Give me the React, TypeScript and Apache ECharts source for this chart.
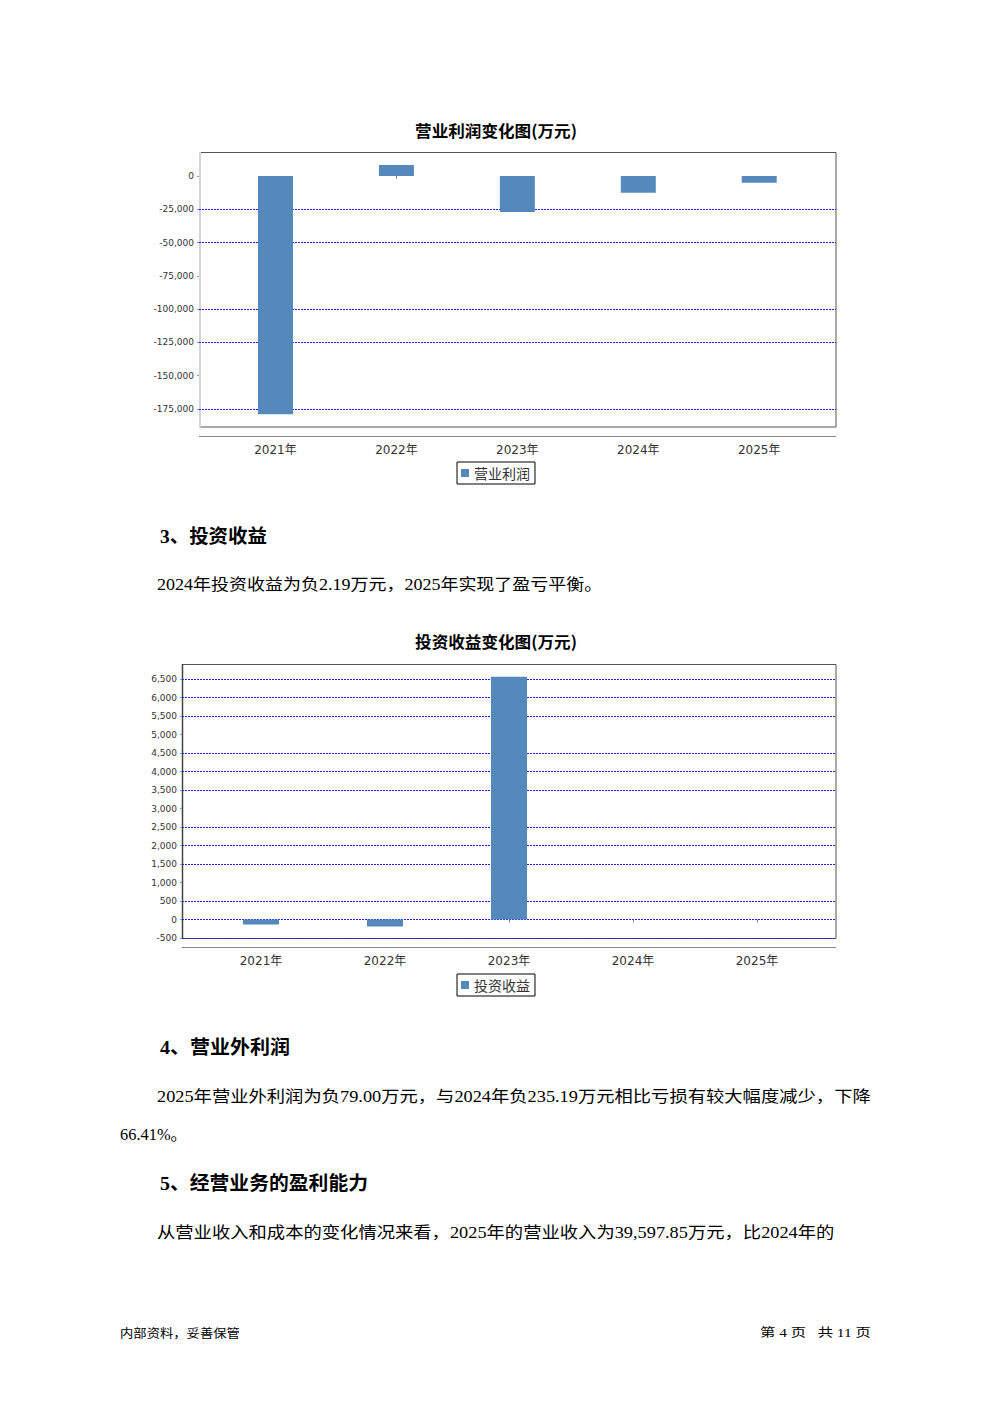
import React, { useEffect, useRef } from 'react';
import * as echarts from 'echarts';

// ---------- data ----------
const years = ['2021年', '2022年', '2023年', '2024年', '2025年'];

const profitName = '营业利润';
const operatingProfit = [-179000, 8250, -27000, -12500, -5000];
const profitTicks = [0, -25000, -50000, -75000, -100000, -125000, -150000, -175000];
const profitGridlines = [-25000, -50000, -100000, -125000, -175000];

const investName = '投资收益';
const investIncome = [-135, -190, 6560, -2.19, 0];
const investTicks = [6500, 6000, 5500, 5000, 4500, 4000, 3500, 3000, 2500, 2000, 1500, 1000, 500, 0, -500];
const investGridlines = [6500, 6000, 5500, 4500, 4000, 3500, 2500, 2000, 1500, 500, 0, -500];

// ---------- styling helpers ----------
const BAR = '#5589bb';
const GRID_BLUE = '#1f1fff';
const BODY = "'Liberation Serif', 'Noto Sans CJK SC', serif";
const SANS = "'DejaVu Sans', 'Noto Sans CJK SC', sans-serif";
const CJK = "'Noto Sans CJK SC', sans-serif";

let measureCtx: CanvasRenderingContext2D | null = null;
function fitScale(text: string, font: string, width: number) {
  if (!measureCtx) measureCtx = document.createElement('canvas').getContext('2d');
  if (!measureCtx) return 1;
  measureCtx.font = font;
  const w = measureCtx.measureText(text).width;
  return w > 0 ? width / w : 1;
}

function txt(text: string, x: number, y: number, size: number, weight: string, family: string, width?: number, align = 'left') {
  const font = `${weight} ${size}px ${family}`;
  const s = width ? fitScale(text, font, width) : 1;
  return {
    type: 'text',
    x,
    y,
    scaleX: s,
    silent: true,
    style: {
      text,
      font,
      fill: '#000',
      textAlign: align,
      align,
      textVerticalAlign: 'middle',
      verticalAlign: 'middle',
    },
  };
}

function splitColors(ticks: number[], shown: number[]) {
  return [...ticks].sort((a, b) => a - b).map((v) => (shown.includes(v) ? GRID_BLUE : 'rgba(0,0,0,0)'));
}

const fmt = (v: number) => v.toLocaleString('en-US');

function buildOption() {
  const pMin = Math.min(...profitTicks);
  const pMax = Math.max(...profitTicks);
  const iMin = Math.min(...investTicks);
  const iMax = Math.max(...investTicks);

  const yLabelAxis = (gridIndex: number, min: number, max: number, interval: number, colors: string[]) => ({
    gridIndex,
    type: 'value',
    min,
    max,
    interval,
    axisLine: { show: false },
    axisTick: { show: true, length: 2, lineStyle: { color: '#999' } },
    axisLabel: { margin: 5, fontSize: 9, color: '#333', fontFamily: SANS, formatter: fmt },
    splitLine: { show: true, lineStyle: { color: colors, type: [2, 1], width: 1 } },
  });

  const catAxis = (gridIndex: number, offset: number) => ({
    gridIndex,
    type: 'category',
    data: years,
    offset,
    axisLine: { show: false },
    axisTick: { show: true, alignWithLabel: true, length: 3, lineStyle: { color: '#888' } },
    axisLabel: { margin: 8, fontSize: 12, color: '#333', fontFamily: SANS },
    splitLine: { show: false },
  });

  const legend = (name: string, top: number) => ({
    data: [name],
    left: 457,
    top,
    orient: 'horizontal',
    icon: 'rect',
    itemWidth: 8,
    itemHeight: 8,
    padding: [3, 5, 3, 4],
    borderColor: '#000',
    borderWidth: 1,
    selectedMode: false,
    textStyle: { fontSize: 14, color: '#333', fontFamily: CJK, lineHeight: 16 },
  });

  const barStyle = { color: BAR, borderWidth: 0 };

  return {
    animation: false,
    backgroundColor: '#fff',
    grid: [
      { left: 199, right: 156, top: 176, bottom: 1403 - 409 },
      { left: 215, right: 992 - 819.7, top: 176, bottom: 1403 - 409 },
      { left: 182, right: 156, top: 679, bottom: 1403 - 938 },
      { left: 199, right: 992 - 819, top: 679, bottom: 1403 - 938 },
    ],
    xAxis: [
      { gridIndex: 0, type: 'value', min: 0, max: 1, show: false },
      catAxis(1, 27),
      { gridIndex: 2, type: 'value', min: 0, max: 1, show: false },
      catAxis(3, 9.3),
    ],
    yAxis: [
      yLabelAxis(0, pMin, pMax, 25000, splitColors(profitTicks, profitGridlines)),
      { gridIndex: 1, type: 'value', min: pMin, max: pMax, show: false },
      yLabelAxis(2, iMin, iMax, 500, splitColors(investTicks, investGridlines)),
      { gridIndex: 3, type: 'value', min: iMin, max: iMax, show: false },
    ],
    legend: [legend(profitName, 462), legend(investName, 974)],
    series: [
      {
        type: 'bar',
        name: profitName,
        xAxisIndex: 1,
        yAxisIndex: 1,
        data: operatingProfit,
        barWidth: 35,
        clip: false,
        itemStyle: barStyle,
      },
      {
        type: 'bar',
        name: investName,
        xAxisIndex: 3,
        yAxisIndex: 3,
        data: investIncome,
        barWidth: 36,
        clip: false,
        itemStyle: barStyle,
      },
    ],
    graphic: [
      // chart 1 frame
      { type: 'rect', silent: true, shape: { x: 199.5, y: 152.5, width: 636.5, height: 274.5 }, style: { fill: 'none', stroke: '#555', lineWidth: 1 } },
      { type: 'line', silent: true, shape: { x1: 200, y1: 152, x2: 200, y2: 427 }, style: { stroke: '#d4d4d4', lineWidth: 2 } },
      { type: 'line', silent: true, shape: { x1: 199, y1: 436.5, x2: 836, y2: 436.5 }, style: { stroke: '#888', lineWidth: 1 } },
      // chart 2 frame
      { type: 'rect', silent: true, shape: { x: 182.5, y: 664.5, width: 653.5, height: 274 }, style: { fill: 'none', stroke: '#555', lineWidth: 1 } },
      { type: 'line', silent: true, shape: { x1: 182.5, y1: 664, x2: 182.5, y2: 939 }, style: { stroke: '#444', lineWidth: 1.5 } },
      { type: 'line', silent: true, shape: { x1: 182, y1: 947.5, x2: 836, y2: 947.5 }, style: { stroke: '#888', lineWidth: 1 } },
      // chart titles
      txt('营业利润变化图(万元)', 496, 130, 16, 'bold', CJK, 162, 'center'),
      txt('投资收益变化图(万元)', 496, 641, 16, 'bold', CJK, 162, 'center'),
      // document text
      txt('3、投资收益', 160, 537, 19, 'bold', BODY, 107),
      txt('2024年投资收益为负2.19万元，2025年实现了盈亏平衡。', 157, 585, 16, 'normal', BODY, 446),
      txt('4、营业外利润', 160, 1048, 19, 'bold', BODY, 130),
      txt('2025年营业外利润为负79.00万元，与2024年负235.19万元相比亏损有较大幅度减少，下降', 157, 1097, 16, 'normal', BODY, 714),
      txt('66.41%。', 120, 1135, 16, 'normal', BODY, 67),
      txt('5、经营业务的盈利能力', 160, 1184, 19, 'bold', BODY, 208),
      txt('从营业收入和成本的变化情况来看，2025年的营业收入为39,597.85万元，比2024年的', 157, 1233, 16, 'normal', BODY, 678),
      // footer
      txt('内部资料，妥善保管', 120, 1333, 12, 'normal', CJK, 120),
      txt('第 4 页   共 11 页', 760, 1333, 12, 'normal', BODY, 111),
    ],
  };
}

export default function App() {
  const ref = useRef<HTMLDivElement>(null);
  useEffect(() => {
    if (!ref.current) return;
    const chart = echarts.init(ref.current, null, { renderer: 'svg' });
    chart.setOption(buildOption() as any);
    return () => chart.dispose();
  }, []);
  return (
    <div
      ref={ref}
      style={{ position: 'absolute', left: 0, top: 0, width: 992, height: 1403, background: '#fff' }}
    />
  );
}
